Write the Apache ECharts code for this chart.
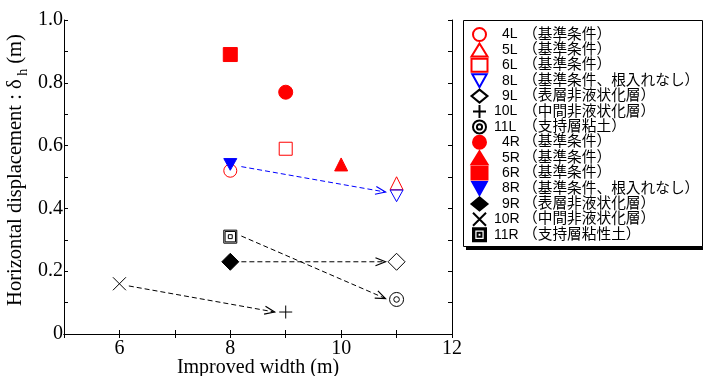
<!DOCTYPE html>
<html><head><meta charset="utf-8">
<script src="https://cdn.jsdelivr.net/npm/echarts@6/dist/echarts.min.js"></script>
<style>html,body{margin:0;padding:0;background:#fff}#c{width:703px;height:376px}</style>
</head><body><div id="c"></div>
<script>
// ---- data ----
const seriesNames = ['4L（基準条件）','5L（基準条件）','6L（基準条件）','8L（基準条件、根入れなし）','9L（表層非液状化層）','10L（中間非液状化層）','11L（支持層粘土）','4R（基準条件）','5R（基準条件）','6R（基準条件）','8R（基準条件、根入れなし）','9R（表層非液状化層）','10R（中間非液状化層）','11R（支持層粘性土）'];
const improvedWidth = [8, 11, 9, 11, 11, 9, 11, 9, 10, 8, 8, 8, 6, 8];
const displacement = [0.52, 0.48, 0.59, 0.44, 0.23, 0.07, 0.11, 0.77, 0.54, 0.89, 0.54, 0.23, 0.16, 0.31];
const xTicks = [6, 8, 10, 12];
const yTicks = [0, 0.2, 0.4, 0.6, 0.8, 1.0];
// arrows (annotation): from -> to in data units
const arrowFrom = [[8.2, 0.533], [8.2, 0.312], [8.2, 0.23], [6.17, 0.153]];
const arrowTo = [[10.8, 0.452], [10.8, 0.113], [10.8, 0.23], [8.8, 0.07]];
const arrowColor = ['#0000ff', '#000', '#000', '#000'];

// ---- styles ----
const RED = '#ff0000', BLUE = '#0000ff', BLK = '#000';
const P_DOWN = 'path://M0,0L10,0L5,9Z';
const P_X = 'path://M0,0L10,10M10,0L0,10';
const P_PLUS = 'path://M5,0L5,10M0,5L10,5';
const P_DCIRC = 'path://M0,10A10,10,0,1,1,20,10A10,10,0,1,1,0,10ZM6,10A4,4,0,1,1,14,10A4,4,0,1,1,6,10Z';
const P_DSQ = 'path://M0,0L20,0L20,20L0,20ZM2,2L18,2L18,18L2,18ZM7,7L13,7L13,13L7,13Z';
const styles = [
  {symbol:'circle', size:13, fill:'transparent', stroke:RED},
  {symbol:'triangle', size:13, fill:'transparent', stroke:RED},
  {symbol:'rect', size:13, fill:'transparent', stroke:RED},
  {symbol:P_DOWN, size:13, fill:'transparent', stroke:BLUE},
  {symbol:'diamond', size:17, fill:'transparent', stroke:BLK},
  {symbol:P_PLUS, size:13, fill:'transparent', stroke:BLK},
  {symbol:P_DCIRC, size:14, fill:'transparent', stroke:BLK},
  {symbol:'circle', size:14, fill:RED, stroke:RED},
  {symbol:'triangle', size:13, fill:RED, stroke:RED},
  {symbol:'rect', size:14, fill:RED, stroke:RED},
  {symbol:P_DOWN, size:13, fill:BLUE, stroke:BLUE},
  {symbol:'diamond', size:17, fill:BLK, stroke:BLK},
  {symbol:P_X, size:13, fill:'transparent', stroke:BLK},
  {symbol:P_DSQ, size:13, fill:'transparent', stroke:BLK}
];

const series = seriesNames.map((n, i) => ({
  name: n, type: 'scatter', symbol: styles[i].symbol, symbolSize: styles[i].size,
  symbolKeepAspect: true,
  data: [[improvedWidth[i], displacement[i]]],
  itemStyle: {color: styles[i].fill, borderColor: styles[i].stroke, borderWidth: 1, opacity: 1},
  emphasis: {disabled: true}, z: 3
}));

series.push({
  type: 'custom', name: 'arrows', silent: true, z: 2,
  data: arrowFrom.map((f, i) => [f[0], f[1], arrowTo[i][0], arrowTo[i][1], i]),
  renderItem: function (params, api) {
    const p1 = api.coord([api.value(0), api.value(1)]);
    const p2 = api.coord([api.value(2), api.value(3)]);
    const i = api.value(4);
    const dx = p2[0] - p1[0], dy = p2[1] - p1[1];
    const L = Math.sqrt(dx * dx + dy * dy);
    const ux = dx / L, uy = dy / L;
    const hl = 10, hw = 4;
    const a = [p2[0] - ux * hl - uy * hw, p2[1] - uy * hl + ux * hw];
    const b = [p2[0] - ux * hl + uy * hw, p2[1] - uy * hl - ux * hw];
    const col = arrowColor[i];
    return {type: 'group', children: [
      {type: 'line', shape: {x1: p1[0], y1: p1[1], x2: p2[0], y2: p2[1]},
       style: {stroke: col, lineWidth: 1, lineDash: [5, 3]}},
      {type: 'polyline', shape: {points: [a, p2, b]},
       style: {stroke: col, lineWidth: 1.2, fill: null}}
    ]};
  }
});

const serif = '"Liberation Serif","Times New Roman",serif';
const sans = '"Liberation Sans","Noto Sans CJK JP",sans-serif';
const axisCommon = {
  axisLine: {show: true, lineStyle: {color: '#000', width: 1}},
  splitLine: {show: false}
};

// legend rich styles: fixed column for the parenthesised part
const mctx = document.createElement('canvas').getContext('2d');
mctx.font = '14px "Liberation Sans"';
const legendRich = {};
seriesNames.forEach((n, i) => {
  const code = n.slice(0, n.indexOf('（'));
  const w = mctx.measureText(code).width;
  const pl = code.length >= 3 ? 1.5 : 9.5;
  legendRich['c' + i] = {fontFamily: sans, fontSize: 14, color: '#000', lineHeight: 15, padding: [0, 0, 0, pl]};
  legendRich['t' + i] = {fontFamily: sans, fontSize: 14.7, color: '#000', lineHeight: 15, padding: [0, 0, 0, Math.max(0, 30.5 - pl - w)]};
});

const chart = echarts.init(document.getElementById('c'), null, {renderer: 'canvas'});
chart.setOption({
  animation: false,
  backgroundColor: '#fff',
  graphic: [
    {type: 'rect', z: 0, silent: true, shape: {x: 466, y: 24, width: 240, height: 226}, style: {fill: '#000'}},
    {type: 'rect', z: 0, silent: true, shape: {x: 463.5, y: 20.5, width: 239, height: 226}, style: {fill: '#fff', stroke: '#000', lineWidth: 1}}
  ],
  grid: {left: 64, right: 251, top: 20, bottom: 42, containLabel: false, outerBoundsMode: 'none'},
  xAxis: [
    Object.assign({}, axisCommon, {
      type: 'value', min: 5, max: 12, interval: 1, position: 'bottom',
      axisTick: {show: true, inside: true, length: 4, lineStyle: {color: '#000'}},
      axisLabel: {margin: 5, fontFamily: serif, fontSize: 20, color: '#000',
        formatter: v => xTicks.indexOf(v) >= 0 ? String(v) : ''},
      name: 'Improved width (m)', nameLocation: 'middle', nameGap: 24, nameMoveOverlap: false,
      nameTextStyle: {fontFamily: serif, fontSize: 20, color: '#000', verticalAlign: 'top'}
    }),
    Object.assign({}, axisCommon, {
      type: 'value', min: 5, max: 12, interval: 1, position: 'top',
      axisTick: {show: true, inside: true, length: 4, lineStyle: {color: '#000'}},
      axisLabel: {show: false}
    })
  ],
  yAxis: [
    Object.assign({}, axisCommon, {
      type: 'value', min: 0, max: 1, interval: 0.1, position: 'left',
      axisTick: {show: true, inside: true, length: 4, lineStyle: {color: '#000'}},
      axisLabel: {margin: 1, fontFamily: serif, fontSize: 20, color: '#000',
        formatter: v => {
          const r = Math.round(v * 10) / 10;
          const t = yTicks.find(y => Math.abs(y - r) < 1e-6);
          if (t === undefined) return '';
          return t === 0 ? '0' : t.toFixed(1);
        }},
      name: '{a|Horizontal displacement : δ}{s| h}{a| (m)}', nameLocation: 'middle', nameGap: 34, nameMoveOverlap: false,
      nameTextStyle: {fontFamily: serif, fontSize: 20.5, color: '#000', padding: [0, 0, 0, 14],
        rich: {a: {fontFamily: serif, fontSize: 20.5, color: '#000', lineHeight: 28, verticalAlign: 'middle'},
               s: {fontFamily: serif, fontSize: 14, color: '#000', lineHeight: 16, verticalAlign: 'bottom'}}}
    }),
    Object.assign({}, axisCommon, {
      type: 'value', min: 0, max: 1, interval: 0.1, position: 'right',
      axisTick: {show: true, inside: true, length: 4, lineStyle: {color: '#000'}},
      axisLabel: {show: false}
    })
  ],
  legend: {
    data: seriesNames, orient: 'vertical', left: 470.5, top: 27, z: 5,
    padding: 0, itemGap: 0.4, itemWidth: 16, itemHeight: 13,
    selectedMode: false,
    textStyle: {fontFamily: sans, fontSize: 14, color: '#000', lineHeight: 15, rich: legendRich},
    formatter: function (name) {
      const i = seriesNames.indexOf(name);
      const k = name.indexOf('（');
      return '{c' + i + '|' + name.slice(0, k) + '}{t' + i + '|' + name.slice(k) + '}';
    }
  },
  series: series
});
</script></body></html>
